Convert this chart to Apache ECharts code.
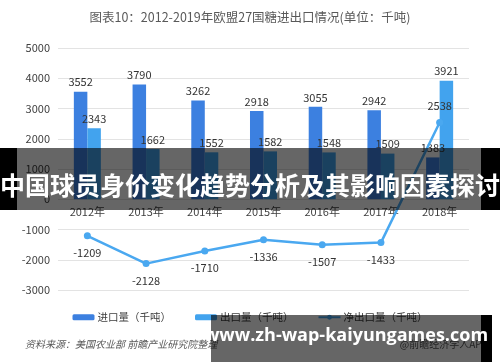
<!DOCTYPE html>
<html><head><meta charset="utf-8">
<script src="https://cdn.jsdelivr.net/npm/echarts@6/dist/echarts.min.js"></script>
<style>html,body{margin:0;padding:0;background:#fff}#c{width:500px;height:362px}</style>
</head><body><div id="c"></div>
<script>
const categories = ['2012年','2013年','2014年','2015年','2016年','2017年','2018年'];
const importVals = [3552, 3790, 3262, 2918, 3055, 2942, 1383];
const exportVals = [2343, 1662, 1552, 1582, 1548, 1509, 3921];
const netVals = [-1209, -2128, -1710, -1336, -1507, -1433, 2538];
const yTicks = [-3000, -2000, -1000, 0, 1000, 2000, 3000, 4000, 5000];
const seriesNames = ['进口量（千吨）', '出口量（千吨）', '净出口量（千吨）'];

const FONT = '"Noto Sans CJK SC", "Noto Sans", sans-serif';
const chart = echarts.init(document.getElementById('c'), null, {renderer: 'canvas'});
const gridTop = 48, gridBottom = 72, H = 362;
const plotH = H - gridTop - gridBottom;
const zeroOffset = plotH * (0 - yTicks[0]) / (yTicks[yTicks.length-1] - yTicks[0]);
chart.setOption({
  animation: false,
  textStyle: {fontFamily: FONT},
  title: {
    text: '图表10：2012-2019年欧盟27国糖进出口情况(单位：千吨)',
    left: 'center', top: 6,
    textStyle: {fontSize: 12.5, fontWeight: 'normal', color: '#595959', fontFamily: FONT}
  },
  grid: {left: 58, right: 31, top: gridTop, bottom: gridBottom, containLabel: false},
  legend: {
    top: 307, left: 'center', itemGap: 24, itemWidth: 22, itemHeight: 6,
    textStyle: {fontSize: 10.5, color: '#404040', fontFamily: FONT, padding: [0, 0, 0, -2]},
    data: seriesNames
  },
  xAxis: {
    type: 'category', data: categories, position: 'bottom', offset: -zeroOffset,
    axisLine: {show: false, onZero: false},
    axisTick: {show: false},
    axisLabel: {fontSize: 11, color: '#404040', margin: 7}
  },
  yAxis: {
    type: 'value', min: yTicks[0], max: yTicks[yTicks.length-1], interval: 1000,
    axisLine: {show: false}, axisTick: {show: false},
    axisLabel: {fontSize: 11, color: '#404040', margin: 8, formatter: v => String(v)},
    splitLine: {lineStyle: {color: '#e3e3e3'}}
  },
  series: [
    {name: seriesNames[0], type: 'bar', data: importVals, barWidth: '23%', barGap: '0%',
     itemStyle: {color: '#3c80e0'},
     label: {show: true, position: 'top', fontSize: 11, color: '#333', distance: 4}},
    {name: seriesNames[1], type: 'bar', data: exportVals, barWidth: '23%', barGap: '0%',
     itemStyle: {color: '#42a3ee'},
     label: {show: true, position: 'top', fontSize: 11, color: '#333', distance: 4}},
    {name: seriesNames[2], type: 'line', data: netVals.map(v => ({value: v, label: {position: v < 0 ? 'bottom' : 'top'}})),
     symbol: 'circle', symbolSize: 7,
     lineStyle: {color: '#4aa8f0', width: 2.5}, itemStyle: {color: '#4aa8f0'},
     label: {show: true, fontSize: 11, color: '#333', distance: 8}, z: 5}
  ],
  graphic: [
    {type: 'text', left: 25, top: 339, z: 50,
     style: {text: '资料来源：美国农业部 前瞻产业研究院整理', fill: '#595959', font: 'italic 10px ' + FONT}},
    {type: 'text', right: 12, top: 339, z: 50,
     style: {text: '@前瞻经济学人APP', fill: '#595959', font: '10px ' + FONT}},
    {type: 'rect', shape: {x: 0, y: 148, width: 17, height: 62}, style: {fill: '#000'}, z: 100},
    {type: 'rect', shape: {x: 17, y: 148, width: 464, height: 62}, style: {fill: 'rgba(0,0,0,0.6)'}, z: 100},
    {type: 'rect', shape: {x: 481, y: 148, width: 19, height: 62}, style: {fill: '#000'}, z: 100},
    {type: 'text', x: 250, y: 185, z: 101,
     style: {text: '中国球员身价变化趋势分析及其影响因素探讨', fill: '#fff', align: 'center', verticalAlign: 'middle',
             font: 'bold 25px ' + FONT}},
    {type: 'rect', shape: {x: 211, y: 315, width: 270, height: 47}, style: {fill: 'rgba(0,0,0,0.6)'}, z: 100},
    {type: 'rect', shape: {x: 481, y: 315, width: 11, height: 47}, style: {fill: '#000'}, z: 100},
    {type: 'text', x: 346, y: 336, z: 101,
     style: {text: 'www.zh-wap-kaiyungames.com', fill: '#fff', align: 'center', verticalAlign: 'middle',
             font: 'bold 18px "Open Sans", sans-serif'}}
  ]
});
</script></body></html>
